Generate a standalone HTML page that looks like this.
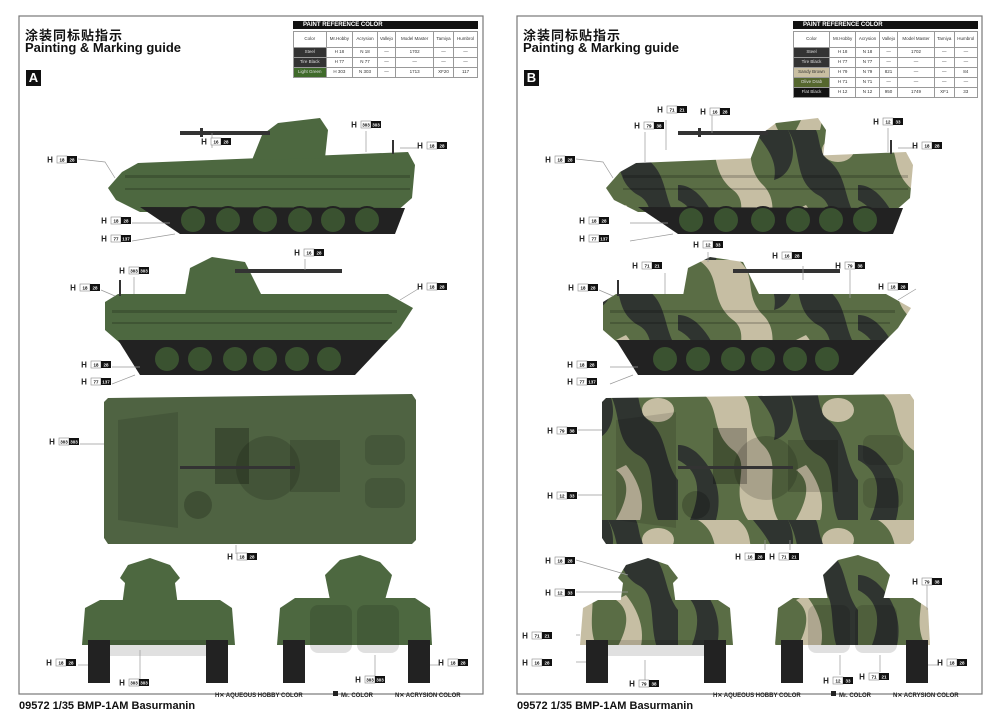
<!DOCTYPE html>
<html><head><meta charset="utf-8">
<style>
html,body{margin:0;padding:0;background:#fff;width:1000px;height:718px;overflow:hidden;font-family:"Liberation Sans","Noto Sans CJK SC",sans-serif;}
svg{position:absolute;left:0;top:0}
.t{position:absolute;font-weight:bold;color:#111}
table{position:absolute;border-collapse:collapse;font-size:4.5px;font-family:"Liberation Sans",sans-serif;color:#333}
td{border:0.6px solid #999;text-align:center;padding:0;height:9px;line-height:1}
.hd td{height:15px}
</style></head><body>
<svg width="1000" height="718" viewBox="0 0 1000 718" font-family="Liberation Sans, sans-serif">
<defs>
<pattern id="camo" patternUnits="userSpaceOnUse" width="180" height="130">
<rect width="180" height="130" fill="#5a6d45"/>
<path d="M20 0 C45 15 30 40 55 60 C75 75 50 100 70 130 L100 130 C85 100 105 75 85 55 C65 35 80 15 60 0Z" fill="#c6bea3"/>
<path d="M110 0 C125 25 115 50 140 65 C160 75 150 105 160 130 L180 130 L180 90 C165 70 170 45 150 30 C140 20 142 8 138 0Z" fill="#2f3430"/>
<path d="M75 0 C90 18 100 32 96 50 C115 45 120 20 110 0Z" fill="#2f3430"/>
<path d="M0 70 C20 80 25 100 12 130 L38 130 C45 105 38 80 18 62 C10 56 5 55 0 55Z" fill="#2f3430"/>
<path d="M118 80 C135 92 128 112 118 130 L142 130 C148 110 140 90 128 75Z" fill="#c6bea3"/>
<ellipse cx="160" cy="20" rx="16" ry="12" fill="#c6bea3"/>
</pattern>
<g id="side1">
<polygon points="108,188 122,172 138,163 408,152 415,165 412,198 396,212 140,212 116,200"/>
<rect x="125" y="175" width="285" height="3" fill="#000" opacity=".18"/>
<rect x="125" y="188" width="285" height="2" fill="#000" opacity=".18"/>
<polygon points="252,160 262,135 278,123 320,118 328,130 325,158"/>
<rect x="180" y="131" width="90" height="4" fill="#333"/>
<rect x="200" y="128" width="3" height="9" fill="#333"/>
<path d="M140 207 L180 234 L395 234 L405 208 Z" fill="#222"/>
<g fill="#3a5230" stroke="#222" stroke-width="2">
<circle cx="193" cy="220" r="13"/><circle cx="228" cy="220" r="13"/><circle cx="265" cy="220" r="13"/><circle cx="300" cy="220" r="13"/><circle cx="333" cy="220" r="13"/><circle cx="367" cy="220" r="13"/>
</g>
<rect x="392" y="140" width="2" height="14" fill="#333"/>
</g>
<g id="side2">
<polygon points="105,302 118,294 388,294 413,308 400,328 385,343 120,343 105,330"/>
<rect x="112" y="310" width="285" height="3" fill="#000" opacity=".18"/>
<rect x="112" y="322" width="280" height="2" fill="#000" opacity=".18"/>
<polygon points="185,296 190,268 212,257 245,262 262,296"/>
<rect x="235" y="269" width="107" height="4" fill="#333"/>
<path d="M118 340 L140 375 L355 375 L388 340 Z" fill="#222"/>
<g fill="#3a5230" stroke="#222" stroke-width="2">
<circle cx="167" cy="359" r="13"/><circle cx="200" cy="359" r="13"/><circle cx="235" cy="359" r="13"/><circle cx="265" cy="359" r="13"/><circle cx="297" cy="359" r="13"/><circle cx="329" cy="359" r="13"/>
</g>
<rect x="119" y="280" width="2" height="16" fill="#333"/>
</g>
<g id="top">
<polygon points="108,398 412,394 416,400 416,540 412,544 108,544 104,538 104,402"/>
<polygon points="118,420 178,412 178,528 118,520" fill="#000" opacity=".12"/>
<rect x="215" y="428" width="34" height="56" fill="#000" opacity=".25"/>
<circle cx="268" cy="468" r="32" fill="#000" opacity=".15"/>
<rect x="290" y="440" width="50" height="52" fill="#000" opacity=".15"/>
<rect x="180" y="466" width="115" height="3" fill="#333"/>
<circle cx="198" cy="505" r="14" fill="#000" opacity=".2"/>
<rect x="365" y="435" width="40" height="30" rx="8" fill="#000" opacity=".12"/>
<rect x="365" y="478" width="40" height="30" rx="8" fill="#000" opacity=".12"/>
</g>
<g id="front">
<polygon points="120,578 128,565 150,558 170,565 180,578 175,583 125,583"/>
<polygon points="125,583 175,583 178,606 122,606"/>
<polygon points="85,608 100,600 220,600 232,608 235,645 82,645"/>
<rect x="88" y="640" width="22" height="43" fill="#222"/>
<rect x="206" y="640" width="22" height="43" fill="#222"/>
<rect x="110" y="640" width="96" height="16" fill="#000" opacity=".12"/>
</g>
<g id="rear">
<polygon points="325,575 340,560 360,555 380,562 392,575 385,600 330,600"/>
<polygon points="280,608 295,598 415,598 430,608 432,645 277,645"/>
<rect x="283" y="640" width="22" height="43" fill="#222"/>
<rect x="408" y="640" width="22" height="43" fill="#222"/>
<rect x="310" y="605" width="42" height="48" rx="8" fill="#000" opacity=".12"/>
<rect x="357" y="605" width="42" height="48" rx="8" fill="#000" opacity=".12"/>
</g>
<g id="lab"><text x="0" y="6.5" font-size="8" font-weight="bold" fill="#222">H</text><rect x="7" y="0" width="10" height="7" fill="#fff" stroke="#888" stroke-width=".6"/><rect x="17" y="0" width="10" height="7" fill="#111"/></g>
</defs>

<rect x="19" y="16" width="464" height="678" fill="none" stroke="#777" stroke-width="1.2"/>
<rect x="517" y="16" width="465" height="678" fill="none" stroke="#777" stroke-width="1.2"/>

<g fill="#4d6840">
<use href="#side1"/><use href="#side2"/><use href="#top" fill="#4f6342"/><use href="#front"/><use href="#rear"/>
</g>
<g transform="translate(498,0)" fill="url(#camo)">
<use href="#side1"/><use href="#side2"/><use href="#top"/><use href="#front"/><use href="#rear"/>
</g>

<g stroke="#999" stroke-width=".7" fill="none">
<path d="M78 159 L105 162 L115 178"/><path d="M212 148 L212 133"/><path d="M366 131 L366 152"/><path d="M418 148 L400 148"/>
<path d="M132 223 L170 223"/><path d="M132 241 L175 234"/><path d="M305 259 L305 270"/><path d="M134 277 L134 294"/>
<path d="M101 290 L115 296"/><path d="M418 289 L400 300"/><path d="M112 367 L140 367"/><path d="M112 384 L135 375"/>
<path d="M80 444 L104 444"/><path d="M236 554 L236 545"/><path d="M78 665 L88 665"/><path d="M140 679 L140 650"/><path d="M375 676 L375 655"/><path d="M440 665 L430 665"/>
<path d="M576 159 L603 162 L613 178"/><path d="M666 120 L666 150"/><path d="M645 132 L645 162"/><path d="M712 115 L712 133"/><path d="M888 128 L888 152"/><path d="M916 148 L898 148"/>
<path d="M630 223 L668 223"/><path d="M630 241 L673 234"/><path d="M708 252 L708 262"/><path d="M665 273 L665 294"/><path d="M803 266 L803 280"/><path d="M850 270 L850 298"/><path d="M599 290 L613 296"/><path d="M916 289 L898 300"/>
<path d="M610 367 L638 367"/><path d="M610 384 L633 375"/><path d="M578 430 L602 430"/><path d="M578 495 L602 495"/>
<path d="M765 550 L765 540"/><path d="M790 550 L790 540"/><path d="M576 560 L628 575"/><path d="M576 592 L628 592"/><path d="M576 635 L580 635"/><path d="M576 662 L586 662"/><path d="M645 680 L645 660"/><path d="M938 665 L928 665"/><path d="M927 585 L927 610"/><path d="M840 675 L840 655"/><path d="M880 672 L880 655"/>
</g>

<g font-size="4.5" text-anchor="middle" font-weight="bold">
<g transform="translate(50,156)"><use href="#lab"/><text x="12" y="5.5">18</text><text x="22" y="5.5" fill="#fff">28</text></g>
<g transform="translate(204,138)"><use href="#lab"/><text x="12" y="5.5">16</text><text x="22" y="5.5" fill="#fff">28</text></g>
<g transform="translate(354,121)"><use href="#lab"/><text x="12" y="5.5">303</text><text x="22" y="5.5" fill="#fff">303</text></g>
<g transform="translate(420,142)"><use href="#lab"/><text x="12" y="5.5">18</text><text x="22" y="5.5" fill="#fff">28</text></g>
<g transform="translate(104,217)"><use href="#lab"/><text x="12" y="5.5">18</text><text x="22" y="5.5" fill="#fff">28</text></g>
<g transform="translate(104,235)"><use href="#lab"/><text x="12" y="5.5">77</text><text x="22" y="5.5" fill="#fff">137</text></g>
<g transform="translate(297,249)"><use href="#lab"/><text x="12" y="5.5">16</text><text x="22" y="5.5" fill="#fff">28</text></g>
<g transform="translate(122,267)"><use href="#lab"/><text x="12" y="5.5">303</text><text x="22" y="5.5" fill="#fff">303</text></g>
<g transform="translate(73,284)"><use href="#lab"/><text x="12" y="5.5">18</text><text x="22" y="5.5" fill="#fff">28</text></g>
<g transform="translate(420,283)"><use href="#lab"/><text x="12" y="5.5">18</text><text x="22" y="5.5" fill="#fff">28</text></g>
<g transform="translate(84,361)"><use href="#lab"/><text x="12" y="5.5">18</text><text x="22" y="5.5" fill="#fff">28</text></g>
<g transform="translate(84,378)"><use href="#lab"/><text x="12" y="5.5">77</text><text x="22" y="5.5" fill="#fff">137</text></g>
<g transform="translate(52,438)"><use href="#lab"/><text x="12" y="5.5">303</text><text x="22" y="5.5" fill="#fff">303</text></g>
<g transform="translate(230,553)"><use href="#lab"/><text x="12" y="5.5">18</text><text x="22" y="5.5" fill="#fff">28</text></g>
<g transform="translate(49,659)"><use href="#lab"/><text x="12" y="5.5">18</text><text x="22" y="5.5" fill="#fff">28</text></g>
<g transform="translate(122,679)"><use href="#lab"/><text x="12" y="5.5">303</text><text x="22" y="5.5" fill="#fff">303</text></g>
<g transform="translate(358,676)"><use href="#lab"/><text x="12" y="5.5">303</text><text x="22" y="5.5" fill="#fff">303</text></g>
<g transform="translate(441,659)"><use href="#lab"/><text x="12" y="5.5">18</text><text x="22" y="5.5" fill="#fff">28</text></g>

<g transform="translate(548,156)"><use href="#lab"/><text x="12" y="5.5">18</text><text x="22" y="5.5" fill="#fff">28</text></g>
<g transform="translate(637,122)"><use href="#lab"/><text x="12" y="5.5">79</text><text x="22" y="5.5" fill="#fff">38</text></g>
<g transform="translate(660,106)"><use href="#lab"/><text x="12" y="5.5">71</text><text x="22" y="5.5" fill="#fff">21</text></g>
<g transform="translate(703,108)"><use href="#lab"/><text x="12" y="5.5">16</text><text x="22" y="5.5" fill="#fff">28</text></g>
<g transform="translate(876,118)"><use href="#lab"/><text x="12" y="5.5">12</text><text x="22" y="5.5" fill="#fff">33</text></g>
<g transform="translate(915,142)"><use href="#lab"/><text x="12" y="5.5">18</text><text x="22" y="5.5" fill="#fff">28</text></g>
<g transform="translate(582,217)"><use href="#lab"/><text x="12" y="5.5">18</text><text x="22" y="5.5" fill="#fff">28</text></g>
<g transform="translate(582,235)"><use href="#lab"/><text x="12" y="5.5">77</text><text x="22" y="5.5" fill="#fff">137</text></g>
<g transform="translate(696,241)"><use href="#lab"/><text x="12" y="5.5">12</text><text x="22" y="5.5" fill="#fff">33</text></g>
<g transform="translate(635,262)"><use href="#lab"/><text x="12" y="5.5">71</text><text x="22" y="5.5" fill="#fff">21</text></g>
<g transform="translate(775,252)"><use href="#lab"/><text x="12" y="5.5">16</text><text x="22" y="5.5" fill="#fff">28</text></g>
<g transform="translate(838,262)"><use href="#lab"/><text x="12" y="5.5">79</text><text x="22" y="5.5" fill="#fff">38</text></g>
<g transform="translate(571,284)"><use href="#lab"/><text x="12" y="5.5">18</text><text x="22" y="5.5" fill="#fff">28</text></g>
<g transform="translate(881,283)"><use href="#lab"/><text x="12" y="5.5">18</text><text x="22" y="5.5" fill="#fff">28</text></g>
<g transform="translate(570,361)"><use href="#lab"/><text x="12" y="5.5">18</text><text x="22" y="5.5" fill="#fff">28</text></g>
<g transform="translate(570,378)"><use href="#lab"/><text x="12" y="5.5">77</text><text x="22" y="5.5" fill="#fff">137</text></g>
<g transform="translate(550,427)"><use href="#lab"/><text x="12" y="5.5">79</text><text x="22" y="5.5" fill="#fff">38</text></g>
<g transform="translate(550,492)"><use href="#lab"/><text x="12" y="5.5">12</text><text x="22" y="5.5" fill="#fff">33</text></g>
<g transform="translate(738,553)"><use href="#lab"/><text x="12" y="5.5">16</text><text x="22" y="5.5" fill="#fff">28</text></g>
<g transform="translate(772,553)"><use href="#lab"/><text x="12" y="5.5">71</text><text x="22" y="5.5" fill="#fff">21</text></g>
<g transform="translate(548,557)"><use href="#lab"/><text x="12" y="5.5">18</text><text x="22" y="5.5" fill="#fff">28</text></g>
<g transform="translate(548,589)"><use href="#lab"/><text x="12" y="5.5">12</text><text x="22" y="5.5" fill="#fff">33</text></g>
<g transform="translate(525,632)"><use href="#lab"/><text x="12" y="5.5">71</text><text x="22" y="5.5" fill="#fff">21</text></g>
<g transform="translate(525,659)"><use href="#lab"/><text x="12" y="5.5">16</text><text x="22" y="5.5" fill="#fff">28</text></g>
<g transform="translate(632,680)"><use href="#lab"/><text x="12" y="5.5">79</text><text x="22" y="5.5" fill="#fff">38</text></g>
<g transform="translate(915,578)"><use href="#lab"/><text x="12" y="5.5">79</text><text x="22" y="5.5" fill="#fff">38</text></g>
<g transform="translate(826,677)"><use href="#lab"/><text x="12" y="5.5">12</text><text x="22" y="5.5" fill="#fff">33</text></g>
<g transform="translate(862,673)"><use href="#lab"/><text x="12" y="5.5">71</text><text x="22" y="5.5" fill="#fff">21</text></g>
<g transform="translate(940,659)"><use href="#lab"/><text x="12" y="5.5">18</text><text x="22" y="5.5" fill="#fff">28</text></g>
</g>

<g font-size="6" font-weight="bold" fill="#222">
<text x="215" y="697">H✕ AQUEOUS HOBBY COLOR</text><rect x="333" y="691" width="5" height="5" fill="#222"/><text x="341" y="697">Mr. COLOR</text><text x="395" y="697">N✕ ACRYSION COLOR</text>
<text x="713" y="697">H✕ AQUEOUS HOBBY COLOR</text><rect x="831" y="691" width="5" height="5" fill="#222"/><text x="839" y="697">Mr. COLOR</text><text x="893" y="697">N✕ ACRYSION COLOR</text>
</g>
</svg>

<div class="t" style="left:25px;top:25px;font-size:13px;font-family:'Noto Sans CJK SC',sans-serif;letter-spacing:1px">涂装同标贴指示</div>
<div class="t" style="left:25px;top:40px;font-size:13px">Painting &amp; Marking guide</div>
<div class="t" style="left:26px;top:70px;width:15px;height:16px;background:#111;color:#fff;font-size:13px;text-align:center;line-height:16px">A</div>
<div class="t" style="left:523px;top:25px;font-size:13px;font-family:'Noto Sans CJK SC',sans-serif;letter-spacing:1px">涂装同标贴指示</div>
<div class="t" style="left:523px;top:40px;font-size:13px">Painting &amp; Marking guide</div>
<div class="t" style="left:524px;top:70px;width:15px;height:16px;background:#111;color:#fff;font-size:13px;text-align:center;line-height:16px">B</div>
<div class="t" style="left:19px;top:700px;font-size:11px">09572 1/35 BMP-1AM Basurmanin</div>
<div class="t" style="left:517px;top:700px;font-size:11px">09572 1/35 BMP-1AM Basurmanin</div>

<div class="t" style="left:293px;top:21px;width:185px;height:8px;background:#111;color:#fff;font-size:6px;line-height:8px;padding-left:10px;box-sizing:border-box">PAINT REFERENCE COLOR</div>
<table style="left:293px;top:31px;width:185px">
<tr class="hd"><td>Color</td><td>Mr.Hobby</td><td>Acrysion</td><td>Vallejo</td><td>Model Master</td><td>Tamiya</td><td>Humbrol</td></tr>
<tr><td style="background:#333;color:#ddd">Steel</td><td>H 18</td><td>N 18</td><td>—</td><td>1702</td><td>—</td><td>—</td></tr>
<tr><td style="background:#333;color:#ddd">Tire Black</td><td>H 77</td><td>N 77</td><td>—</td><td>—</td><td>—</td><td>—</td></tr>
<tr><td style="background:#3f6a2a;color:#ddd">Light Green</td><td>H 303</td><td>N 303</td><td>—</td><td>1713</td><td>XF20</td><td>117</td></tr>
</table>
<div class="t" style="left:793px;top:21px;width:185px;height:8px;background:#111;color:#fff;font-size:6px;line-height:8px;padding-left:10px;box-sizing:border-box">PAINT REFERENCE COLOR</div>
<table style="left:793px;top:31px;width:185px">
<tr class="hd"><td>Color</td><td>Mr.Hobby</td><td>Acrysion</td><td>Vallejo</td><td>Model Master</td><td>Tamiya</td><td>Humbrol</td></tr>
<tr><td style="background:#333;color:#ddd">Steel</td><td>H 18</td><td>N 18</td><td>—</td><td>1702</td><td>—</td><td>—</td></tr>
<tr><td style="background:#333;color:#ddd">Tire Black</td><td>H 77</td><td>N 77</td><td>—</td><td>—</td><td>—</td><td>—</td></tr>
<tr><td style="background:#c9bfa2;color:#333">Sandy Brown</td><td>H 79</td><td>N 79</td><td>821</td><td>—</td><td>—</td><td>84</td></tr>
<tr><td style="background:#55672e;color:#ddd">Olive Drab</td><td>H 71</td><td>N 71</td><td>—</td><td>—</td><td>—</td><td>—</td></tr>
<tr><td style="background:#111;color:#ddd">Flat Black</td><td>H 12</td><td>N 12</td><td>950</td><td>1749</td><td>XF1</td><td>33</td></tr>
</table>
</body></html>
